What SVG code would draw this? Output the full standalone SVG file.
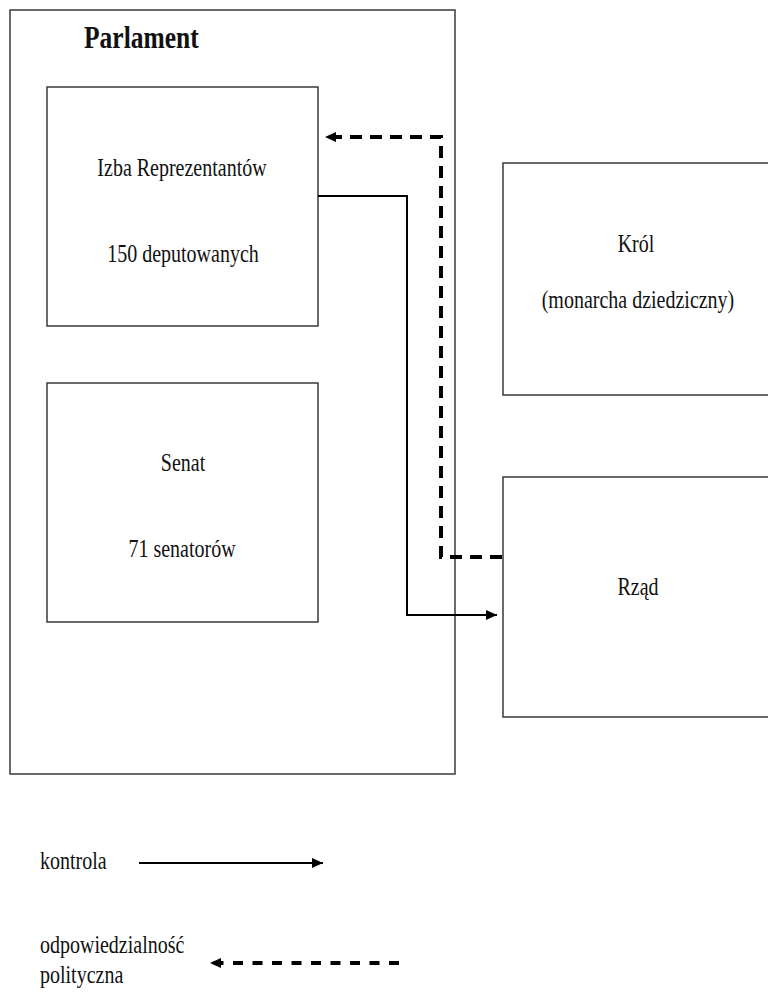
<svg xmlns="http://www.w3.org/2000/svg" width="768" height="992" viewBox="0 0 768 992">
<style>
.box{fill:#fff;stroke:#3a3a3a;stroke-width:1.5}
.t{font-family:"Liberation Serif","Times New Roman",serif;font-size:20px;fill:#111}
.c{text-anchor:middle}
.title{font-family:"Liberation Serif","Times New Roman",serif;font-size:25.5px;font-weight:bold;fill:#111}
.solid{fill:none;stroke:#000;stroke-width:2}
.dash{fill:none;stroke:#000;stroke-width:4;stroke-dasharray:12 8}
.ldash{fill:none;stroke:#000;stroke-width:4;stroke-dasharray:10 9.5}
</style>
<defs>
<marker id="arr" markerUnits="userSpaceOnUse" markerWidth="12" markerHeight="12" refX="11" refY="6" orient="auto">
<path d="M0,1 L11,6 L0,11 z" fill="#000"/>
</marker>
</defs>
<rect width="768" height="992" fill="#fff"/>
<g id="parlament">
<rect class="box" x="10" y="10" width="445" height="764"/>
<text class="title" transform="translate(84,48) scale(1,1.2)">Parlament</text>
</g>
<g id="izba">
<rect class="box" x="47" y="87" width="271" height="239"/>
<text class="t c" transform="translate(182,176) scale(1,1.25)">Izba Reprezentantów</text>
<text class="t c" transform="translate(183,262) scale(1,1.25)">150 deputowanych</text>
</g>
<g id="senat">
<rect class="box" x="47" y="383" width="271" height="239"/>
<text class="t c" transform="translate(183,471) scale(1,1.25)">Senat</text>
<text class="t c" transform="translate(182,557) scale(1,1.25)">71 senatorów</text>
</g>
<g id="krol">
<rect class="box" x="503" y="163" width="300" height="232"/>
<text class="t c" transform="translate(636,252) scale(1,1.25)">Król</text>
<text class="t c" transform="translate(638,308) scale(1,1.25)">(monarcha dziedziczny)</text>
</g>
<g id="rzad">
<rect class="box" x="503" y="477" width="300" height="240"/>
<text class="t c" transform="translate(638,595) scale(1,1.25)">Rząd</text>
</g>
<g id="connectors">
<path class="solid" d="M318,196 H407 V615 H497" marker-end="url(#arr)"/>
<path class="dash" d="M502,557 H441 V137 H325" marker-end="url(#arr)"/>
</g>
<g id="legend">
<text class="t" transform="translate(40,869) scale(1,1.25)">kontrola</text>
<path class="solid" d="M139,863 H323" marker-end="url(#arr)"/>
<text class="t" transform="translate(40,953) scale(1,1.25)">odpowiedzialność</text>
<text class="t" transform="translate(40,983) scale(1,1.25)">polityczna</text>
<path class="ldash" d="M399,963 H210" marker-end="url(#arr)"/>
</g>
</svg>
